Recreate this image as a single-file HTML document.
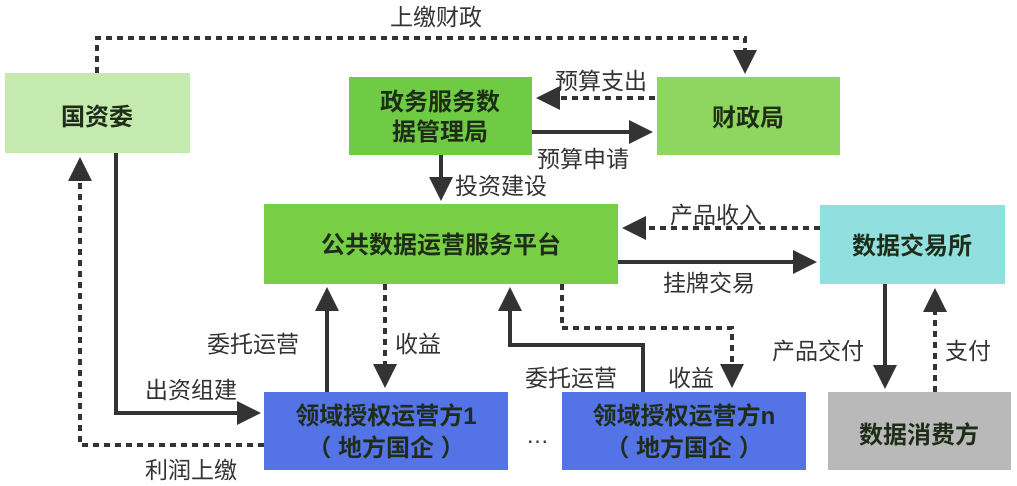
<!DOCTYPE html>
<html><head><meta charset="utf-8"><style>
html,body{margin:0;padding:0;background:#fff;}
svg{display:block;}
text{font-family:"Liberation Sans","Noto Sans CJK SC",sans-serif;}
.b{font-weight:bold;font-size:24px;fill:#1f2d18;text-anchor:middle;}
.l{font-size:23px;fill:#333;}
</style></head><body>
<svg width="1017" height="486" viewBox="0 0 1017 486" xmlns="http://www.w3.org/2000/svg">
<defs>
<marker id="a" markerWidth="6" markerHeight="6" refX="5" refY="3" orient="auto" markerUnits="strokeWidth">
<path d="M0,0 L6,3 L0,6 z" fill="#333"/></marker>
</defs>
<rect x="5" y="73" width="185" height="80" fill="#c5eab0"/>
<rect x="349" y="77" width="183" height="78" fill="#6fcb44"/>
<rect x="657" y="77" width="183" height="78" fill="#8fd660"/>
<rect x="264" y="204" width="354" height="80" fill="#78cf46"/>
<rect x="820" y="205" width="185" height="79" fill="#92dfe0"/>
<rect x="264" y="392" width="244" height="78" fill="#5473e6"/>
<rect x="562" y="392" width="244" height="78" fill="#5473e6"/>
<rect x="828" y="392" width="183" height="78" fill="#b9b9b9"/>
<text class="b" x="97" y="125">国资委</text>
<text class="b" x="440" y="110">政务服务数</text>
<text class="b" x="440" y="140">据管理局</text>
<text class="b" x="748" y="126">财政局</text>
<text class="b" x="441" y="253">公共数据运营服务平台</text>
<text class="b" x="912" y="254">数据交易所</text>
<text class="b" x="386" y="424">领域授权运营方1</text>
<text class="b" x="386" y="456">（ 地方国企 ）</text>
<text class="b" x="684" y="424">领域授权运营方n</text>
<text class="b" x="684" y="456">（ 地方国企 ）</text>
<text class="b" x="919" y="443">数据消费方</text>
<text class="l" x="526" y="443">…</text>
<g fill="none" stroke="#333" stroke-width="4">
<g stroke-dasharray="6,5">
<path d="M97,73 V38 H745 V70" marker-end="url(#a)"/>
<path d="M655,98 H540" marker-end="url(#a)"/>
<path d="M820,228 H626" marker-end="url(#a)"/>
<path d="M264,445 H80 V161" marker-end="url(#a)"/>
<path d="M385,284 V384" marker-end="url(#a)"/>
<path d="M562,284 V328 H732 V384" marker-end="url(#a)"/>
<path d="M935,392 V292" marker-end="url(#a)"/>
</g>
<path d="M532,132 H649" marker-end="url(#a)"/>
<path d="M441,155 V197" marker-end="url(#a)"/>
<path d="M618,262 H813" marker-end="url(#a)"/>
<path d="M116,153 V413 H257" marker-end="url(#a)"/>
<path d="M327,392 V291" marker-end="url(#a)"/>
<path d="M643,392 V345 H510 V291" marker-end="url(#a)"/>
<path d="M885,284 V385" marker-end="url(#a)"/>
</g>
<text class="l" x="390" y="25">上缴财政</text>
<text class="l" x="555" y="89">预算支出</text>
<text class="l" x="537" y="167">预算申请</text>
<text class="l" x="455" y="194">投资建设</text>
<text class="l" x="670" y="223">产品收入</text>
<text class="l" x="663" y="291">挂牌交易</text>
<text class="l" x="207" y="352">委托运营</text>
<text class="l" x="395" y="352">收益</text>
<text class="l" x="145" y="398">出资组建</text>
<text class="l" x="145" y="478">利润上缴</text>
<text class="l" x="525" y="386">委托运营</text>
<text class="l" x="668" y="386">收益</text>
<text class="l" x="772" y="359">产品交付</text>
<text class="l" x="945" y="359">支付</text>
</svg>
</body></html>
